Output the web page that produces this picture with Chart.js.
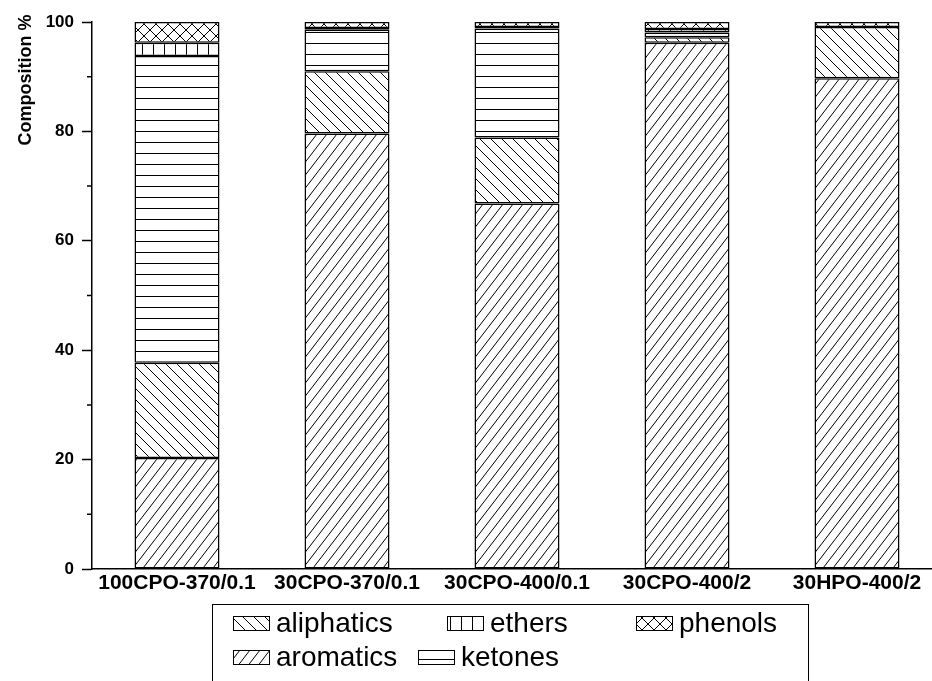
<!DOCTYPE html>
<html>
<head>
<meta charset="utf-8">
<script src="https://cdn.jsdelivr.net/npm/chart.js@4/dist/chart.umd.min.js"></script>
<style>
  html, body { margin: 0; padding: 0; background: #fff; overflow: hidden; }
  #wrap { position: relative; width: 942px; height: 681px; }
</style>
</head>
<body>
<div id="wrap"><canvas id="chart"></canvas></div>
<script>
// Product composition (%) by sample
const categories = ['100CPO-370/0.1', '30CPO-370/0.1', '30CPO-400/0.1', '30CPO-400/2', '30HPO-400/2'];
const aromatics  = [20.3, 79.6, 66.8, 96.2, 89.7];
const aliphatics = [17.4, 11.4, 12.1, 1.0, 9.4];
const ketones    = [56.1, 7.6, 19.9, 0.9, 0];
const ethers     = [2.4, 0.3, 0.3, 0.6, 0];
const phenols    = [3.8, 1.1, 0.9, 1.3, 0.9];
const yMinorTicks = [10, 30, 50, 70, 90];

const FONT = '"Liberation Sans", Arial, sans-serif';

// Build a black-on-white hatch pattern from a small tile
function hatch(kind, w, h) {
  const c = document.createElement('canvas');
  c.width = w; c.height = h;
  const g = c.getContext('2d');
  g.fillStyle = '#fff';
  g.fillRect(0, 0, w, h);
  g.strokeStyle = '#000';
  g.lineWidth = 1;
  g.beginPath();
  const fwd = () => { // "/"
    g.moveTo(-w, 2 * h); g.lineTo(2 * w, -h);
    g.moveTo(-w, h); g.lineTo(w, -h);
    g.moveTo(0, 2 * h); g.lineTo(2 * w, 0);
  };
  const back = () => { // "\"
    g.moveTo(-w, -h); g.lineTo(2 * w, 2 * h);
    g.moveTo(-w, 0); g.lineTo(w, 2 * h);
    g.moveTo(0, -h); g.lineTo(2 * w, h);
  };
  if (kind === '/') fwd();
  if (kind === '\\') back();
  if (kind === 'x') { fwd(); back(); }
  if (kind === '-') { g.moveTo(0, h - 0.5); g.lineTo(w, h - 0.5); }
  if (kind === '|') { g.moveTo(w - 0.5, 0); g.lineTo(w - 0.5, h); }
  g.stroke();
  return g.createPattern(c, 'repeat');
}

const patterns = {
  aromatics: hatch('/', 10, 13),
  aliphatics: hatch('\\', 11, 11),
  ketones: hatch('-', 11, 11),
  ethers: hatch('|', 11, 11),
  phenols: hatch('x', 12, 12)
};

function series(label, data) {
  return {
    label, data,
    backgroundColor: patterns[label],
    borderColor: '#000',
    borderWidth: 1.5,
    borderSkipped: false
  };
}

// Minor y ticks, rotated axis title and the boxed two-row legend
const decorations = {
  id: 'decorations',
  afterDraw(chart) {
    const ctx = chart.ctx;
    const y = chart.scales.y;
    ctx.save();
    ctx.strokeStyle = '#000';
    ctx.lineWidth = 1.5;
    ctx.beginPath();
    yMinorTicks.forEach(v => {
      const py = y.getPixelForValue(v);
      ctx.moveTo(y.right - 5, py);
      ctx.lineTo(y.right, py);
    });
    ctx.stroke();

    // axis title
    ctx.save();
    ctx.translate(26, 80);
    ctx.rotate(-Math.PI / 2);
    ctx.font = 'bold 18px ' + FONT;
    ctx.fillStyle = '#000';
    ctx.textAlign = 'center';
    ctx.textBaseline = 'middle';
    ctx.fillText('Composition %', 0, 0);
    ctx.restore();

    // legend
    ctx.lineWidth = 1;
    ctx.strokeRect(212.5, 604.5, 596, 120);
    const items = [
      { ds: 1, x: 233, y: 623 },
      { ds: 3, x: 447, y: 623 },
      { ds: 4, x: 636, y: 623 },
      { ds: 0, x: 233, y: 657 },
      { ds: 2, x: 418, y: 657 }
    ];
    ctx.font = '28px ' + FONT;
    ctx.textBaseline = 'middle';
    ctx.textAlign = 'left';
    items.forEach(it => {
      const d = chart.data.datasets[it.ds];
      ctx.fillStyle = d.backgroundColor;
      ctx.fillRect(it.x, it.y - 7, 37, 15);
      ctx.strokeRect(it.x + 0.5, it.y - 6.5, 36, 14);
      ctx.fillStyle = '#000';
      ctx.fillText(d.label, it.x + 43, it.y + 1);
    });
    ctx.restore();
  }
};

new Chart(document.getElementById('chart'), {
  type: 'bar',
  data: {
    labels: categories,
    datasets: [
      series('aromatics', aromatics),
      series('aliphatics', aliphatics),
      series('ketones', ketones),
      series('ethers', ethers),
      series('phenols', phenols)
    ]
  },
  options: {
    responsive: true,
    maintainAspectRatio: false,
    animation: false,
    layout: { padding: { top: 22, right: 0, left: 0, bottom: 0 } },
    datasets: { bar: { categoryPercentage: 1, barPercentage: 0.5 } },
    plugins: { legend: { display: false }, tooltip: { enabled: false } },
    scales: {
      x: {
        stacked: true,
        offset: true,
        grid: { drawOnChartArea: false, drawTicks: false },
        border: { color: '#000', width: 1.5 },
        ticks: { color: '#000', font: { family: FONT, size: 21, weight: 'bold' }, padding: 2, maxRotation: 0, autoSkip: false },
        afterFit(s) { s.height = 112; }
      },
      y: {
        stacked: true,
        min: 0, max: 100,
        ticks: { stepSize: 20, color: '#000', font: { family: FONT, size: 17, weight: 'bold' }, padding: 8 },
        grid: { drawOnChartArea: false, tickLength: 10, tickColor: '#000', tickWidth: 1.5 },
        border: { color: '#000', width: 1.5 },
        afterFit(s) { s.width = 92; }
      }
    }
  },
  plugins: [decorations]
});
</script>
</body>
</html>
